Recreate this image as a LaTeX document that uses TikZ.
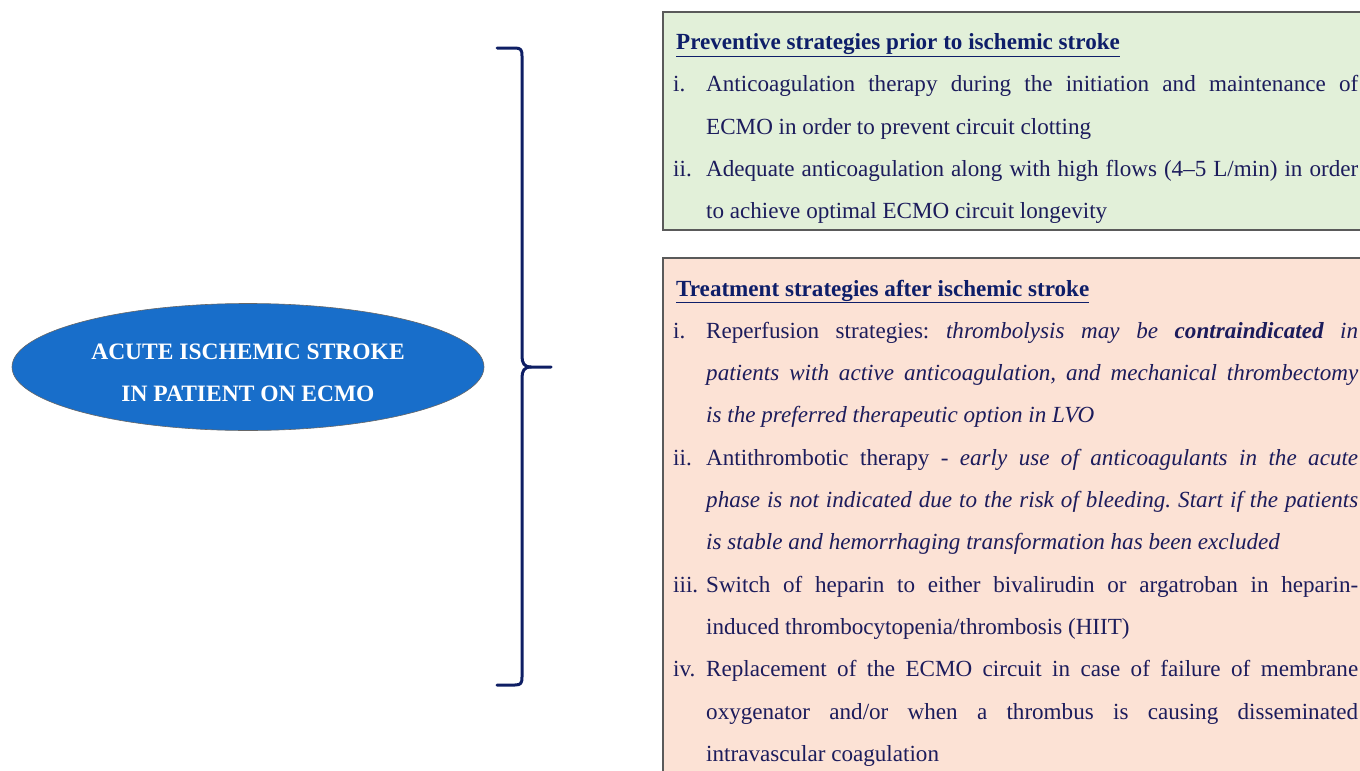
\documentclass[tikz,border=0pt]{standalone}
\usepackage{fontspec}
\setmainfont{Liberation Serif}
\usetikzlibrary{shapes.geometric, positioning}

\definecolor{ellblue}{RGB}{24,110,202}
\definecolor{prevgreen}{RGB}{226,240,217}
\definecolor{treatpeach}{RGB}{252,226,213}
\definecolor{navytxt}{RGB}{28,28,92}
\definecolor{navyhead}{RGB}{14,30,105}
\definecolor{bracenavy}{RGB}{14,30,100}
\definecolor{edgegray}{RGB}{90,90,90}

\tolerance=10000
\emergencystretch=20pt
\hyphenpenalty=10000
\frenchspacing
\newcommand{\stritem}[2]{\par\noindent\hangindent=33pt\hangafter=1\makebox[33pt][l]{#1}#2\par}
\newcommand{\strhead}[1]{\noindent\hspace*{3pt}{\bfseries\color{navyhead}\underline{#1}}\par}

\begin{document}
\begin{tikzpicture}[x=1pt,y=-1pt,
  oval/.style={ellipse,fill=ellblue,draw=black!60,line width=0.6pt,minimum width=472pt,minimum height=127pt,inner sep=0pt},
  ovaltxt/.style={text=white,font=\fontsize{23.5}{42}\selectfont\bfseries,align=center,inner sep=0pt},
  panel/.style={draw=edgegray,line width=1.2pt},
  lst/.style={anchor=base west,inner sep=0pt,text width=685pt,align=justify,text=navytxt,
    font=\fontsize{23.1}{42.3}\selectfont},
  brc/.style={draw=bracenavy,line width=3pt,line cap=round,line join=round}
]
  \useasboundingbox (0,0) rectangle (1360,771);
  \clip (0,0) rectangle (1360,771);

  % boxes
  \filldraw[panel,fill=prevgreen]  (663,12)  rectangle (1380,230);
  \filldraw[panel,fill=treatpeach] (663,258) rectangle (1380,800);

  \node[oval] (stroke) at (248,367) {};
  \node[ovaltxt] (strokelbl) at ([yshift=-6pt]stroke.center) {ACUTE ISCHEMIC STROKE\\IN PATIENT ON ECMO};

  % brace
  \coordinate (btop) at (497,48);
  \coordinate (bmid) at (551,367);
  \coordinate (bbot) at (497,685);
  \draw[brc] (btop) -- (515,48) .. controls (521,48) and (522,50) .. (522,56) -- (522,356)
    .. controls (522,363) and (524,367) .. (531,367) -- (bmid);
  \draw[brc] (531,367) .. controls (524,367) and (522,371) .. (522,378) -- (522,677)
    .. controls (522,683) and (521,685) .. (515,685) -- (bbot);

  \node[lst] (prev) at (673,49.5) {%
    \strhead{Preventive strategies prior to ischemic stroke}
    \stritem{i.}{Anticoagulation therapy during the initiation and maintenance of\linebreak
      ECMO in order to prevent circuit clotting}
    \stritem{ii.}{Adequate anticoagulation along with high flows (4--5 L/min) in order\linebreak
      to achieve optimal ECMO circuit longevity}};

  \node[lst] (treat) at (673,296) {%
    \strhead{Treatment strategies after ischemic stroke}
    \stritem{i.}{Reperfusion strategies: \textit{thrombolysis may be \textbf{contraindicated} in\linebreak
      patients with active anticoagulation, and mechanical thrombectomy\linebreak
      is the preferred therapeutic option in LVO}}
    \stritem{ii.}{Antithrombotic therapy - \textit{early use of anticoagulants in the acute\linebreak
      phase is not indicated due to the risk of bleeding. Start if the patients\linebreak
      is stable and hemorrhaging transformation has been excluded}}
    \stritem{iii.}{Switch of heparin to either bivalirudin or argatroban in heparin-\linebreak
      induced thrombocytopenia/thrombosis (HIIT)}
    \stritem{iv.}{Replacement of the ECMO circuit in case of failure of membrane\linebreak
      oxygenator and/or when a thrombus is causing disseminated\linebreak
      intravascular coagulation}};
\end{tikzpicture}
\end{document}
